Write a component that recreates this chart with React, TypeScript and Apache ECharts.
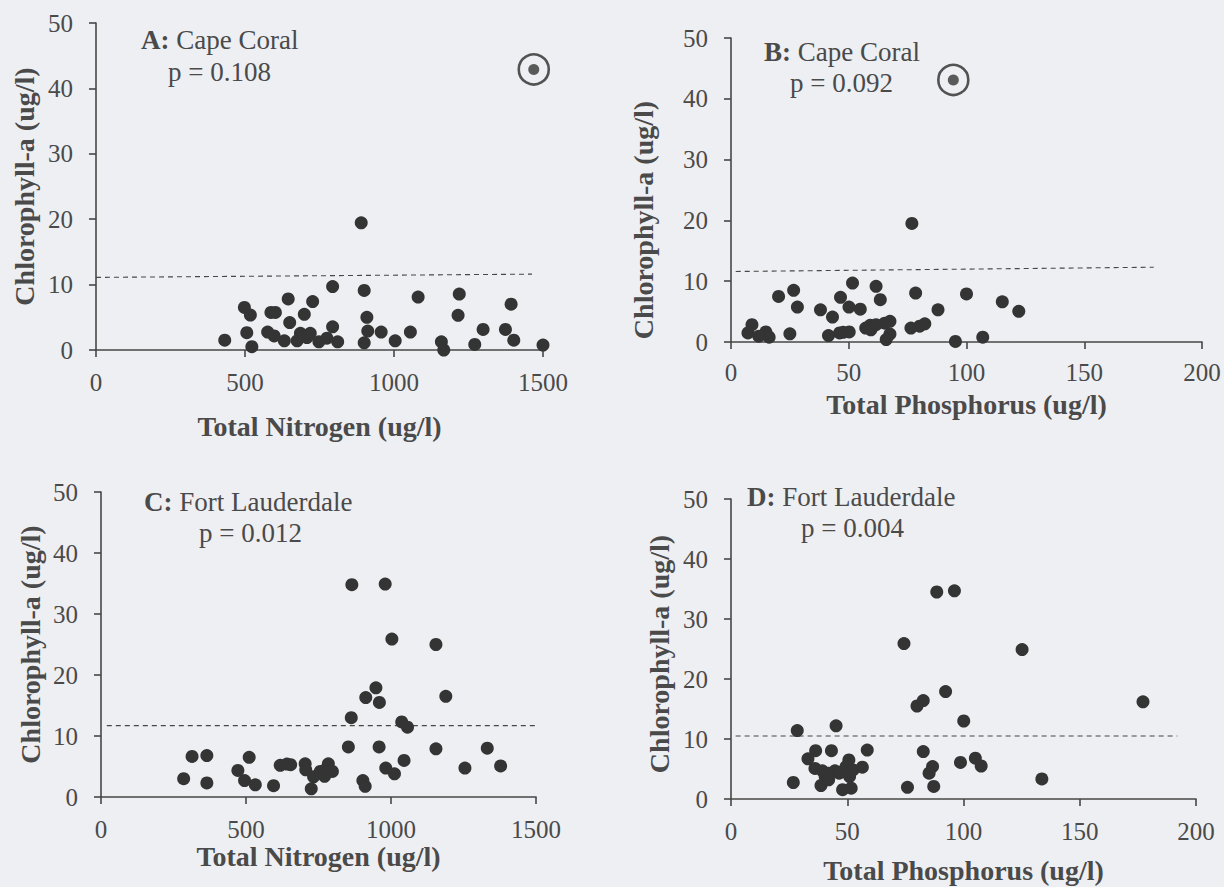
import React, { useEffect, useRef } from "react";
import * as echarts from "echarts";

// Panel A: Cape Coral, Total Nitrogen vs Chlorophyll-a
const aTN = [432, 498, 518, 506, 523, 576, 587, 598, 602, 632, 645, 650, 675, 686, 699, 708, 719, 727, 748, 775, 794, 794, 811, 890, 900, 900, 909, 912, 957, 1004, 1055, 1081, 1159, 1167, 1215, 1219, 1271, 1299, 1374, 1393, 1402, 1500];
const aChl = [1.5, 6.5, 5.35, 2.65, 0.5, 2.75, 5.75, 2.15, 5.75, 1.4, 7.8, 4.2, 1.4, 2.55, 5.45, 1.9, 2.55, 7.4, 1.25, 1.8, 9.7, 3.55, 1.25, 19.45, 9.1, 1.1, 5.0, 2.9, 2.75, 1.4, 2.75, 8.1, 1.25, 0, 5.3, 8.55, 0.85, 3.15, 3.15, 7.0, 1.5, 0.75];
const aOutlier = [1469, 42.9];
const aThresholdX = [0, 1463];
const aThresholdY = [11.1, 11.6];

// Panel B: Cape Coral, Total Phosphorus vs Chlorophyll-a
const bTP = [76.8, 51.6, 61.6, 26.6, 20.2, 46.5, 63.4, 78.4, 100, 115.2, 122.2, 28.2, 38.0, 50.1, 54.9, 87.9, 43.1, 8.9, 7.2, 14.8, 16.2, 11.8, 25, 41.4, 46.1, 47.6, 50.2, 57.2, 59.1, 59.4, 61.6, 65.3, 67.5, 67.5, 65.9, 76.4, 80.1, 82.3, 95.3, 106.9];
const bChl = [19.5, 9.7, 9.15, 8.5, 7.5, 7.35, 6.95, 8.05, 7.9, 6.6, 5.05, 5.75, 5.3, 5.75, 5.4, 5.3, 4.1, 2.85, 1.5, 1.65, 0.8, 0.95, 1.35, 1.05, 1.5, 1.6, 1.65, 2.3, 2.75, 2.0, 2.85, 3.1, 3.4, 1.3, 0.4, 2.3, 2.6, 3.0, 0.1, 0.8];
const bOutlier = [94.4, 43.1];
const bThresholdX = [2, 179.5];
const bThresholdY = [11.6, 12.3];

// Panel C: Fort Lauderdale, Total Nitrogen vs Chlorophyll-a
const cTN = [865, 980, 1003, 1155, 948, 913, 960, 1189, 863, 1037, 1057, 853, 959, 1155, 1332, 314, 365, 511, 1045, 618, 641, 654, 704, 784, 1378, 472, 706, 982, 1012, 1255, 773, 798, 756, 733, 771, 285, 495, 532, 365, 595, 903, 911, 725];
const cChl = [34.8, 34.9, 25.9, 25.0, 17.9, 16.3, 15.5, 16.5, 13.0, 12.3, 11.45, 8.2, 8.2, 7.9, 8.0, 6.65, 6.8, 6.5, 6.0, 5.2, 5.4, 5.3, 5.45, 5.45, 5.1, 4.35, 4.45, 4.75, 3.8, 4.75, 4.45, 4.2, 4.2, 3.3, 3.4, 3.0, 2.7, 2.0, 2.3, 1.85, 2.7, 1.75, 1.35];
const cThresholdX = [20, 1559];
const cThresholdY = [11.7, 11.7];

// Panel D: Fort Lauderdale, Total Phosphorus vs Chlorophyll-a
const dTP = [88.5, 96.1, 74.4, 125.2, 92.3, 80, 82.7, 177.2, 100.1, 45.2, 28.5, 36.4, 43.2, 58.6, 82.7, 33.1, 105.1, 98.7, 107.6, 86.7, 85.2, 36.1, 39.3, 42.0, 40.5, 38.7, 44.7, 48, 50.7, 49.5, 52.5, 56.5, 51, 48, 51.7, 26.8, 75.9, 87.2, 133.7, 46.5, 42];
const dChl = [34.5, 34.7, 25.9, 24.9, 17.9, 15.5, 16.4, 16.2, 13.0, 12.2, 11.4, 8.05, 8.05, 8.15, 7.9, 6.7, 6.8, 6.1, 5.5, 5.4, 4.3, 5.1, 4.7, 4.3, 3.75, 2.25, 4.7, 4.6, 6.5, 5.4, 4.85, 5.3, 3.75, 1.55, 1.8, 2.75, 1.95, 2.1, 3.35, 4.3, 3.2];
const dThresholdX = [2, 192];
const dThresholdY = [10.5, 10.5];

const yTicks = [0, 10, 20, 30, 40, 50];
const nitrogenMax = 1500;
const phosphorusMax = 200;

const panelTitles = [
  { letter: "A:", site: "Cape Coral", p: "p = 0.108" },
  { letter: "B:", site: "Cape Coral", p: "p = 0.092" },
  { letter: "C:", site: "Fort Lauderdale", p: "p = 0.012" },
  { letter: "D:", site: "Fort Lauderdale", p: "p = 0.004" },
];

const FONT = "'Liberation Serif', 'Times New Roman', serif";
const TEXT = "#4a4a4a";
const AXIS = "#474747";
const DOT = "#343434";
const BG = "#eeeff2";

const zip = (xs: number[], ys: number[]) => xs.map((x, i) => [x, ys[i]]);

export default function App() {
  const ref = useRef<HTMLDivElement>(null);
  useEffect(() => {
    if (!ref.current) return;
    const chart = echarts.init(ref.current, undefined, { renderer: "svg" });

    const grids = [
      { left: 96, top: 23, width: 447, height: 327 },
      { left: 731, top: 38, width: 471, height: 304 },
      { left: 101, top: 492, width: 435, height: 305 },
      { left: 731, top: 499, width: 465, height: 300 },
    ];

    const xCfg = [
      { max: nitrogenMax, interval: 500, name: "Total Nitrogen (ug/l)", gap: 62, margin: 20 },
      { max: phosphorusMax, interval: 50, name: "Total Phosphorus (ug/l)", gap: 48, margin: 18 },
      { max: nitrogenMax, interval: 500, name: "Total Nitrogen (ug/l)", gap: 45, margin: 20 },
      { max: phosphorusMax, interval: 50, name: "Total Phosphorus (ug/l)", gap: 57, margin: 20 },
    ];
    const yGap = [58, 74, 57, 58];
    const yPad = [
      [0, 0, 0, 0],
      [0, 60, 0, 0],
      [0, 0, 0, 0],
      [0, 10, 0, 0],
    ];

    const lineStyle = { color: AXIS, width: 1.6 };
    const plain = (v: number) => String(v);

    const xAxis = xCfg.map((c, i) => ({
      gridIndex: i,
      type: "value",
      min: 0,
      max: c.max,
      interval: c.interval,
      splitLine: { show: false },
      axisLine: { show: true, onZero: false, lineStyle },
      axisTick: { show: true, inside: false, length: 7, lineStyle },
      axisLabel: { fontSize: 25, color: TEXT, fontFamily: FONT, margin: c.margin, formatter: plain },
      name: c.name,
      nameLocation: "middle",
      nameGap: c.gap,
      nameTextStyle: { fontSize: 28, fontWeight: "bold", color: TEXT, fontFamily: FONT },
    }));

    const yAxis = [0, 1, 2, 3].map((i) => ({
      gridIndex: i,
      type: "value",
      min: yTicks[0],
      max: yTicks[yTicks.length - 1],
      interval: yTicks[1] - yTicks[0],
      splitLine: { show: false },
      axisLine: { show: true, onZero: false, lineStyle },
      axisTick: { show: true, inside: false, length: 7, lineStyle },
      axisLabel: { fontSize: 25, color: TEXT, fontFamily: FONT, margin: 23, formatter: plain },
      name: "Chlorophyll-a (ug/l)",
      nameLocation: "middle",
      nameGap: yGap[i],
      nameTextStyle: {
        fontSize: 28,
        fontWeight: "bold",
        color: TEXT,
        fontFamily: FONT,
        padding: yPad[i],
      },
    }));

    const scatter = (i: number, data: number[][]) => ({
      type: "scatter",
      xAxisIndex: i,
      yAxisIndex: i,
      data,
      symbol: "circle",
      symbolSize: 13,
      clip: false,
      itemStyle: { color: DOT, opacity: 1 },
      silent: true,
    });

    const threshold = (i: number, xs: number[], ys: number[]) => ({
      type: "line",
      xAxisIndex: i,
      yAxisIndex: i,
      data: zip(xs, ys),
      symbol: "none",
      clip: false,
      lineStyle: { color: AXIS, width: 1.1, type: [5, 4] },
      silent: true,
      z: 1,
    });

    const outlierRing = (i: number, pt: number[]) => [
      {
        type: "scatter",
        xAxisIndex: i,
        yAxisIndex: i,
        data: [pt],
        symbol: "circle",
        symbolSize: 30,
        clip: false,
        itemStyle: { color: "rgba(0,0,0,0)", borderColor: "#2a2a2a", borderWidth: 2.6 },
        silent: true,
      },
      {
        type: "scatter",
        xAxisIndex: i,
        yAxisIndex: i,
        data: [pt],
        symbol: "circle",
        symbolSize: 11,
        clip: false,
        itemStyle: { color: DOT },
        silent: true,
      },
    ];

    const series: any[] = [
      threshold(0, aThresholdX, aThresholdY),
      scatter(0, zip(aTN, aChl)),
      ...outlierRing(0, aOutlier),
      threshold(1, bThresholdX, bThresholdY),
      scatter(1, zip(bTP, bChl)),
      ...outlierRing(1, bOutlier),
      threshold(2, cThresholdX, cThresholdY),
      scatter(2, zip(cTN, cChl)),
      threshold(3, dThresholdX, dThresholdY),
      scatter(3, zip(dTP, dChl)),
    ];

    const titlePos = [
      { tx: 141, ty: 40, px: 168, py: 72 },
      { tx: 764, ty: 52, px: 790, py: 83 },
      { tx: 144, ty: 502, px: 199, py: 533 },
      { tx: 747, ty: 497, px: 801, py: 528 },
    ];

    const graphic: any[] = [];
    panelTitles.forEach((t, i) => {
      const pos = titlePos[i];
      graphic.push({
        type: "text",
        x: pos.tx,
        y: pos.ty,
        silent: true,
        style: {
          text: `{b|${t.letter}} ${t.site}`,
          fontSize: 27,
          fontFamily: FONT,
          fill: TEXT,
          verticalAlign: "middle",
          align: "left",
          rich: {
            b: { fontSize: 27, fontFamily: FONT, fontWeight: "bold", fill: TEXT, color: TEXT },
          },
        },
      });
      graphic.push({
        type: "text",
        x: pos.px,
        y: pos.py,
        silent: true,
        style: {
          text: t.p,
          fontSize: 27,
          fontFamily: FONT,
          fill: TEXT,
          verticalAlign: "middle",
          align: "left",
        },
      });
    });

    chart.setOption({
      animation: false,
      backgroundColor: BG,
      textStyle: { fontFamily: FONT },
      grid: grids.map((g) => ({ ...g, containLabel: false })),
      xAxis,
      yAxis,
      series,
      graphic,
    });

    return () => chart.dispose();
  }, []);

  return (
    <div
      ref={ref}
      style={{ position: "fixed", left: 0, top: 0, width: 1224, height: 887 }}
    />
  );
}
